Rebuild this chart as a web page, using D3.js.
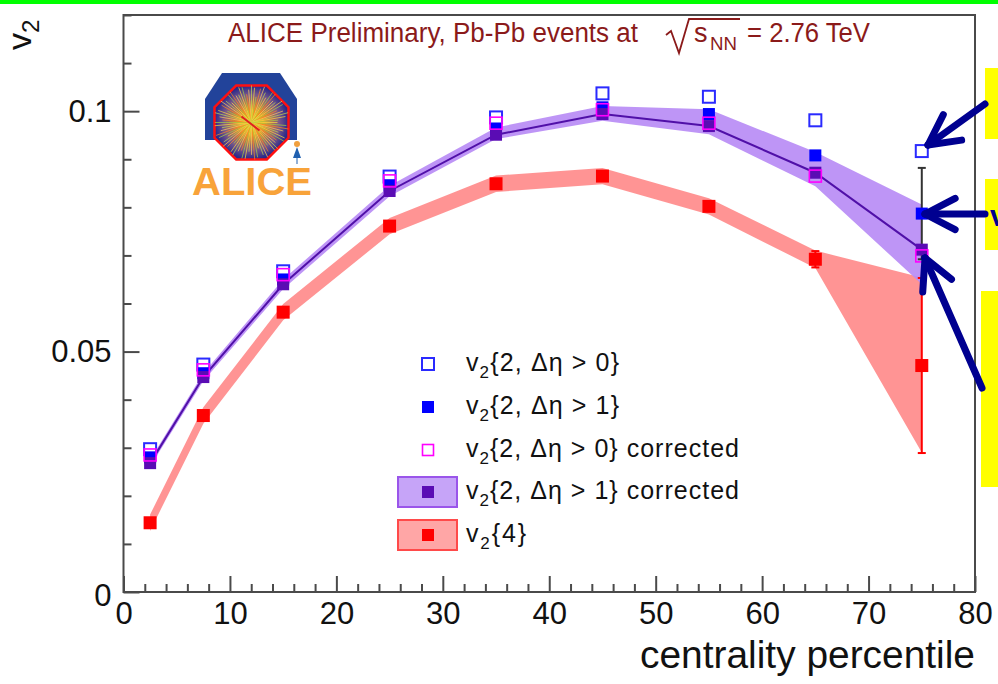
<!DOCTYPE html>
<html>
<head>
<meta charset="utf-8">
<script src="https://cdn.jsdelivr.net/npm/d3@7"></script>
<style>
  body { margin: 0; background: #fff; }
  svg { display: block; font-family: "Liberation Sans", Arial, Helvetica, sans-serif; }
</style>
</head>
<body>
<svg id="chart" width="998" height="684"></svg>
<script>
// ---- data: elliptic flow v2 vs centrality, Pb-Pb at 2.76 TeV ----
const centrality = [2.5, 7.5, 15, 25, 35, 45, 55, 65, 75];
const v2gap0      = [0.0297, 0.0473, 0.0667, 0.0864, 0.0987, 0.1037, 0.1030, 0.0981, 0.0917];
const v2gap1      = [0.0280, 0.0455, 0.0650, 0.0846, 0.0963, 0.1008, 0.0994, 0.0908, 0.0787];
const v2gap1Err   = [0, 0, 0, 0, 0, 0, 0, 0, 0.0095];
const v2gap0Corr  = [0.0285, 0.0462, 0.0660, 0.0855, 0.0975, 0.1003, 0.0975, 0.0865, 0.0699];
const v2gap1Corr  = [0.0268, 0.0447, 0.0640, 0.0834, 0.0951, 0.0994, 0.0969, 0.0872, 0.0712];
const v2gap1CorrLow  = [0.0261, 0.0439, 0.0630, 0.0823, 0.0942, 0.0980, 0.0952, 0.0844, 0.0640];
const v2gap1CorrHigh = [0.0275, 0.0455, 0.0650, 0.0845, 0.0966, 0.1011, 0.1004, 0.0915, 0.0806];
const v2four      = [0.0144, 0.0367, 0.0582, 0.0761, 0.0849, 0.0865, 0.0802, 0.0692, 0.0471];
const v2fourLow   = [0.0127, 0.0350, 0.0565, 0.0744, 0.0832, 0.0848, 0.0785, 0.0674, 0.0290];
const v2fourHigh  = [0.0161, 0.0384, 0.0599, 0.0778, 0.0866, 0.0882, 0.0819, 0.0710, 0.0654];
const v2fourErr   = [0, 0, 0, 0, 0, 0, 0, 0.0017, 0.0182];

const xMajorTicks = [0, 10, 20, 30, 40, 50, 60, 70, 80];
const yMajorTicks = [0, 0.05, 0.1];
const yTickLabels = ["0", "0.05", "0.1"];

const legendLabels = [
  "{2, \u0394\u03b7 > 0}",
  "{2, \u0394\u03b7 > 1}",
  "{2, \u0394\u03b7 > 0} corrected",
  "{2, \u0394\u03b7 > 1} corrected",
  "{4}"
];
const legendWidths = [153, 153, 273, 273, 60];

// ---- layout ----
const svg = d3.select("#chart");
const plot = { left: 123.5, right: 975, top: 15, bottom: 592 };
const x = d3.scaleLinear().domain([0, 80]).range([plot.left, plot.right]);
const y = d3.scaleLinear().domain([0, 0.12]).range([plot.bottom, plot.top]);

const C = {
  blue: "#0000ff", hollowBlue: "#2a2aff", magenta: "#ff00ff",
  purple: "#5a0cb4", purpleBand: "#b98cf5", purpleLine: "#5010a8",
  red: "#ff0000", redBand: "#ff8e8e", axis: "#4a4a4a", navy: "#000090",
  title: "#8b1a1a"
};

// green strip along the top edge
svg.append("rect").attr("x", 0).attr("y", 0).attr("width", 998).attr("height", 4).attr("fill", "#00ff00");

// ---- bands ----
const idx = d3.range(centrality.length);
const bandArea = (lo, hi) => d3.area()
  .x(i => x(centrality[i])).y0(i => y(lo[i])).y1(i => y(hi[i]));

svg.append("path").attr("d", bandArea(v2fourLow, v2fourHigh)(idx))
  .attr("fill", C.redBand).attr("opacity", 0.95);
svg.append("path").attr("d", bandArea(v2gap1CorrLow, v2gap1CorrHigh)(idx))
  .attr("fill", C.purpleBand).attr("opacity", 0.92);

svg.append("path")
  .attr("d", d3.line().x(i => x(centrality[i])).y(i => y(v2gap1Corr[i]))(idx))
  .attr("fill", "none").attr("stroke", C.purpleLine).attr("stroke-width", 2);

// ---- error bars ----
function errorBars(vals, errs, color) {
  const g = svg.append("g").attr("stroke", color).attr("stroke-width", 2);
  idx.filter(i => errs[i] > 0).forEach(i => {
    const cx = x(centrality[i]);
    g.append("line").attr("x1", cx).attr("x2", cx)
      .attr("y1", y(vals[i] - errs[i])).attr("y2", y(vals[i] + errs[i]));
    [vals[i] - errs[i], vals[i] + errs[i]].forEach(v =>
      g.append("line").attr("x1", cx - 4).attr("x2", cx + 4).attr("y1", y(v)).attr("y2", y(v)));
  });
}
errorBars(v2four, v2fourErr, C.red);
errorBars(v2gap1, v2gap1Err, "#333");

// ---- markers ----
function squares(vals, opts) {
  const s = opts.size;
  svg.append("g").selectAll("rect").data(idx).join("rect")
    .attr("x", i => x(centrality[i]) - s / 2)
    .attr("y", i => y(vals[i]) - s / 2)
    .attr("width", s).attr("height", s)
    .attr("fill", opts.fill || "none")
    .attr("stroke", opts.stroke || "none")
    .attr("stroke-width", opts.sw || 0);
}
squares(v2four, { size: 13, fill: C.red });
squares(v2gap0, { size: 12, stroke: C.hollowBlue, sw: 2 });
squares(v2gap1, { size: 12, fill: C.blue });
squares(v2gap1Corr, { size: 12, fill: C.purple });
squares(v2gap0Corr, { size: 12, stroke: C.magenta, sw: 1.6 });

// ---- frame and axes ----
const axisG = svg.append("g").attr("stroke", C.axis).attr("stroke-width", 2);
axisG.append("rect").attr("x", plot.left).attr("y", plot.top)
  .attr("width", plot.right - plot.left).attr("height", plot.bottom - plot.top)
  .attr("fill", "none");

const xAxis = d3.axisBottom(x).tickValues(xMajorTicks).tickSize(-16).tickSizeOuter(0).tickPadding(10);
const xg = svg.append("g").attr("transform", `translate(0,${plot.bottom})`).call(xAxis);
const xMinor = d3.axisBottom(x).tickValues(d3.range(0, 81, 2).filter(v => v % 10 !== 0))
  .tickSize(-8).tickSizeOuter(0).tickFormat("");
const xmg = svg.append("g").attr("transform", `translate(0,${plot.bottom})`).call(xMinor);

const yAxis = d3.axisLeft(y).tickValues(yMajorTicks).tickSize(-16).tickSizeOuter(0)
  .tickPadding(12).tickFormat((d, i) => yTickLabels[i]);
const yg = svg.append("g").attr("transform", `translate(${plot.left},0)`).call(yAxis);
const yMinor = d3.axisLeft(y).tickValues(d3.range(1, 13).map(k => k / 100).filter(v => Math.abs(v - 0.05) > 1e-6 && Math.abs(v - 0.1) > 1e-6))
  .tickSize(-8).tickSizeOuter(0).tickFormat("");
const ymg = svg.append("g").attr("transform", `translate(${plot.left},0)`).call(yMinor);

[xg, xmg, yg, ymg].forEach(g => {
  g.select(".domain").remove();
  g.selectAll(".tick line").attr("stroke", C.axis).attr("stroke-width", 2);
});
xg.selectAll(".tick text").attr("font-size", 31).attr("fill", "#111");
yg.selectAll(".tick text").attr("font-size", 31).attr("fill", "#111");
yg.selectAll(".tick").filter(d => d === 0).select("text").attr("dy", "0.42em");

// axis titles
svg.append("text").attr("x", 975).attr("y", 668).attr("text-anchor", "end")
  .attr("font-size", 38).attr("fill", "#111")
  .attr("textLength", 335).attr("lengthAdjust", "spacingAndGlyphs").text("centrality percentile");

const yTitle = svg.append("text").attr("transform", "translate(31,50) rotate(-90)")
  .attr("font-size", 34).attr("fill", "#111");
yTitle.append("tspan").text("v");
yTitle.append("tspan").attr("font-size", 24).attr("dy", 8).text("2");

// ---- title ----
const titleG = svg.append("g").attr("fill", C.title);
titleG.append("text").attr("x", 228).attr("y", 42).attr("font-size", 27)
  .attr("textLength", 410).attr("lengthAdjust", "spacingAndGlyphs")
  .text("ALICE Preliminary, Pb-Pb events at");
titleG.append("path").attr("d", "M666,35 L671,31 L679,53 L689,19 L740,19")
  .attr("fill", "none").attr("stroke", C.title).attr("stroke-width", 1.8);
titleG.append("text").attr("x", 694).attr("y", 42).attr("font-size", 27).text("s");
titleG.append("text").attr("x", 710).attr("y", 50).attr("font-size", 18)
  .attr("textLength", 27).attr("lengthAdjust", "spacingAndGlyphs").text("NN");
titleG.append("text").attr("x", 747).attr("y", 42).attr("font-size", 27)
  .attr("textLength", 123).attr("lengthAdjust", "spacingAndGlyphs").text("= 2.76 TeV");

// ---- legend ----
const legendY = [364, 407, 450, 492, 535];
const lg = svg.append("g");
lg.append("rect").attr("x", 398).attr("y", 477).attr("width", 59).attr("height", 30)
  .attr("fill", "#c6a4f8").attr("stroke", "#9a55ea").attr("stroke-width", 2);
lg.append("rect").attr("x", 398).attr("y", 520).attr("width", 59).attr("height", 30)
  .attr("fill", "#ffa6a6").attr("stroke", "#ff4a4a").attr("stroke-width", 2);
const mk = [
  { stroke: C.hollowBlue, sw: 2, fill: "none", s: 12 },
  { fill: C.blue, s: 12 },
  { stroke: C.magenta, sw: 1.6, fill: "#fff", s: 11 },
  { fill: "#5a0cb4", s: 12 },
  { fill: C.red, s: 12 }
];
legendY.forEach((ly, k) => {
  lg.append("rect").attr("x", 428 - mk[k].s / 2).attr("y", ly - mk[k].s / 2)
    .attr("width", mk[k].s).attr("height", mk[k].s)
    .attr("fill", mk[k].fill).attr("stroke", mk[k].stroke || "none").attr("stroke-width", mk[k].sw || 0);
  const t = lg.append("text").attr("x", 466).attr("y", ly + 7).attr("font-size", 25).attr("fill", "#111")
    .attr("textLength", legendWidths[k]);
  t.append("tspan").text("v");
  t.append("tspan").attr("font-size", 17).attr("dy", 7).text("2");
  t.append("tspan").attr("dy", -7).text(legendLabels[k]);
});

// ---- ALICE logo ----
const logo = svg.append("g");
logo.append("path")
  .attr("d", "M222,73 L280,73 L297,99 L297,140 L205,140 L205,99 Z")
  .attr("fill", "#22439a");
const cx0 = 251.5, cy0 = 122.5, R = 37, r2 = R * 0.414;
const oct = [[cx0 - r2, cy0 - R], [cx0 + r2, cy0 - R], [cx0 + R, cy0 - r2], [cx0 + R, cy0 + r2],
             [cx0 + r2, cy0 + R], [cx0 - r2, cy0 + R], [cx0 - R, cy0 + r2], [cx0 - R, cy0 - r2]];
const defs = svg.append("defs");
const grad = defs.append("radialGradient").attr("id", "burst");
grad.append("stop").attr("offset", "0%").attr("stop-color", "#ffb000");
grad.append("stop").attr("offset", "35%").attr("stop-color", "#e88a30");
grad.append("stop").attr("offset", "75%").attr("stop-color", "#7a5a8a");
grad.append("stop").attr("offset", "100%").attr("stop-color", "#2a2a8a");
logo.append("polygon").attr("points", oct.map(p => p.join(",")).join(" "))
  .attr("fill", "url(#burst)").attr("stroke", "#ff1010").attr("stroke-width", 2.5);
defs.append("clipPath").attr("id", "octClip").append("polygon")
  .attr("points", oct.map(p => p.join(",")).join(" "));
const rays = logo.append("g").attr("clip-path", "url(#octClip)");
const rayColors = ["#ffe040", "#a8d840", "#ff9020", "#ffd060", "#c0e050"];
d3.range(72).forEach(k => {
  const a = k * Math.PI * 2 / 72;
  const len = 26 + 12 * Math.abs(Math.sin(k * 2.3));
  rays.append("line").attr("x1", cx0).attr("y1", cy0)
    .attr("x2", cx0 + len * Math.cos(a)).attr("y2", cy0 + len * Math.sin(a))
    .attr("stroke", rayColors[k % 5]).attr("stroke-width", 0.8).attr("opacity", 0.85);
});
logo.append("line").attr("x1", cx0 - 10).attr("y1", cy0 - 6).attr("x2", cx0 + 8).attr("y2", cy0 + 8)
  .attr("stroke", "#e02020").attr("stroke-width", 2);
// the little Alice figure
logo.append("circle").attr("cx", 297).attr("cy", 144).attr("r", 3).attr("fill", "#f0a040");
logo.append("path").attr("d", "M293,158 L301,158 L297,147 Z").attr("fill", "#2060b0");
logo.append("line").attr("x1", 297).attr("y1", 158).attr("x2", 297).attr("y2", 164)
  .attr("stroke", "#2060b0").attr("stroke-width", 1);
logo.append("text").attr("x", 192).attr("y", 195).attr("font-size", 38).attr("font-weight", "bold")
  .attr("fill", "#f8a33a").attr("textLength", 120).attr("lengthAdjust", "spacingAndGlyphs").text("ALICE");

// ---- annotation boxes and arrows on the right ----
const ann = svg.append("g");
[[985, 68, 13, 71], [985, 179, 13, 71], [981, 291, 17, 196]].forEach(b =>
  ann.append("rect").attr("x", b[0]).attr("y", b[1]).attr("width", b[2]).attr("height", b[3]).attr("fill", "#ffff00"));
ann.append("text").attr("x", 990).attr("y", 226).attr("font-size", 30).attr("font-weight", "bold")
  .attr("fill", C.navy).text("v");

function arrow(x1, y1, x2, y2) {
  const g = ann.append("g").attr("stroke", C.navy).attr("stroke-width", 7)
    .attr("stroke-linecap", "round").attr("fill", "none");
  g.append("line").attr("x1", x1).attr("y1", y1).attr("x2", x2).attr("y2", y2);
  const ang = Math.atan2(y1 - y2, x1 - x2);
  [-0.48, 0.48].forEach(d => g.append("line").attr("x1", x2).attr("y1", y2)
    .attr("x2", x2 + 34 * Math.cos(ang + d)).attr("y2", y2 + 34 * Math.sin(ang + d)));
}
arrow(985, 104, 928, 145);
arrow(985, 214, 925, 214);
arrow(982, 388, 925, 258);
</script>
</body>
</html>
